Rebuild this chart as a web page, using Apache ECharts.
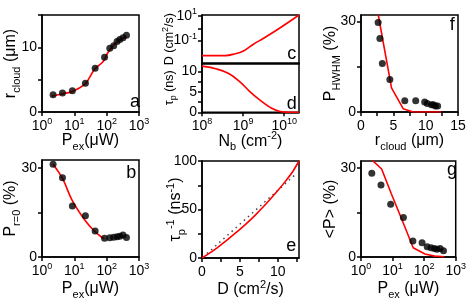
<!DOCTYPE html>
<html><head><meta charset="utf-8">
<script src="https://cdn.jsdelivr.net/npm/echarts@6/dist/echarts.min.js"></script>
<style>html,body{margin:0;padding:0;background:#fff}#c{width:469px;height:307px}</style>
</head><body><div id="c"></div>
<script>
// ---- data ----
const pEx      = [2.2, 4.3, 8.7, 22, 44, 86, 125, 165, 210, 255, 320, 410];
const rCloud   = [2.65, 2.92, 3.3, 4.46, 6.77, 8.46, 9.85, 10.25, 10.9, 11.2, 11.5, 11.85];
const rFitP    = [2.0, 4.5, 8.8, 21, 30, 43, 78, 111, 200, 408];
const rFit     = [2.46, 2.83, 3.18, 4.26, 5.4, 6.67, 7.8, 9.23, 10.77, 11.65];
const pR0      = [31.3, 26.7, 17.2, 13.9, 8.75, 6.3, 6.5, 6.7, 6.8, 7.0, 7.4, 6.6];
const pR0FitP  = [2.2, 4.3, 8.5, 21, 43, 70, 85];
const pR0Fit   = [31.3, 26.5, 19.2, 12.5, 8.6, 6.7, 6.2];
const nbC      = [1e8, 2e8, 3.7e8, 5.9e8, 1.02e9, 1.78e9, 3.16e9, 6.6e9, 1.41e10, 2.29e10];
const dC       = [0.0059, 0.0059, 0.006, 0.0078, 0.0141, 0.05, 0.155, 0.72, 3.9, 12.0];
const nbD      = [1e8, 2.29e8, 4.47e8, 8.5e8, 1.48e9, 2.63e9, 4.57e9, 7.94e9, 1.41e10, 2.29e10];
const tauD     = [11.3, 10.6, 9.5, 7.4, 5.0, 2.9, 1.2, 0.2, 0, 0];
const dE       = [0, 1, 2, 3, 4, 5, 6, 7, 8, 9, 10, 11, 12, 12.8];
const invTauE  = [0, 5, 10.5, 16.5, 23, 29.5, 36.5, 44, 52, 60.5, 69.5, 79, 89.5, 100];
const dDotE    = [0.66, 12.17];
const invDotE  = [4.5, 85];
const pHwhm    = [29.7, 24.4, 16.1, 10.8, 3.7, 3.7, 3.3, 2.8, 2.4, 2.4, 2.0, 2.0];
const rFitF    = [2.67, 4.72, 6.52, 8.06, 12.4];
const pHwhmFit = [32.2, 8.0, 1.1, 0, 0];
const pAvg     = [28.3, 24.3, 17.8, 13.3, 5.4, 4.8, 3.5, 3.1, 2.9, 2.6, 2.9, 2.1];
const pAvgFitP = [2.3, 4.5, 9, 22, 45, 106, 216, 437];
const pAvgFit  = [32.6, 29.7, 21.5, 11.4, 3.1, 1.0, 0.3, 0.1];
// tick positions / labelled ticks
const nbExpTicks = [8, 9, 10];
const dExpTicks  = [-1, 0, 1];
const dExpLabels = [-1, 1];

// ---- helpers ----
const FONT = 'Liberation Sans, Arial, Helvetica, sans-serif';
const zip = (a, b) => a.map((v, i) => [v, b[i]]);
const isInt = v => Math.abs(v - Math.round(v)) < 1e-6;
const tickRich = {
  b: {fontSize: 14, lineHeight: 18, fontFamily: FONT, color: '#000'},
  s: {fontSize: 9, verticalAlign: 'top', fontFamily: FONT, color: '#000'}
};
const mkNameRich = (fs) => ({
  n: {fontSize: fs, lineHeight: Math.round(fs * 1.375), fontFamily: FONT, color: '#000'},
  sub: {fontSize: Math.round(fs * 0.69), verticalAlign: 'bottom', fontFamily: FONT, color: '#000'},
  sup: {fontSize: Math.round(fs * 0.69), verticalAlign: 'top', fontFamily: FONT, color: '#000'}
});
const nameRich = mkNameRich(16);
const smallNameRich = mkNameRich(12.5);
const pow10 = e => '{b|10}{s|' + e + '}';
const plain = v => '{b|' + v + '}';
const line = {color: '#000', width: 1.5};
function axis(o, ticks, labels) {
  const a = Object.assign({
    axisLine: {show: true, onZero: false, lineStyle: line},
    splitLine: {show: false},
    nameLocation: 'middle',
    nameMoveOverlap: false,
    nameTextStyle: {rich: nameRich},
  }, o);
  a.axisTick = Object.assign({show: true, inside: false, length: 4, lineStyle: line}, ticks ? {customValues: ticks} : {}, o.axisTick || {});
  a.axisLabel = Object.assign({color: '#000', fontFamily: FONT, fontSize: 14, margin: 5, rich: tickRich,
    hideOverlap: false, showMinLabel: true, showMaxLabel: true}, labels ? {customValues: labels} : {}, o.axisLabel || {});
  return a;
}
const logLabel = v => {
  const l = Math.log10(v);
  return isInt(l) ? pow10(Math.round(l)) : '';
};

const grids = [
  {left: 42, top: 15, width: 97, height: 97},      // a
  {left: 202, top: 15, width: 97, height: 48.3},   // c
  {left: 202, top: 63.3, width: 97, height: 49},   // d
  {left: 361, top: 15, width: 97, height: 97},     // f
  {left: 42, top: 160, width: 97, height: 97},     // b
  {left: 202, top: 161, width: 97, height: 97},    // e
  {left: 361, top: 161, width: 97, height: 96}     // g
].map(g => Object.assign({show: true, borderColor: '#000', borderWidth: 1.5, backgroundColor: 'transparent'}, g));

const xAxes = [
  axis({gridIndex: 0, type: 'log', logBase: 10, min: 1, max: 1000, name: '{n|P}{sub|ex}{n|(μW)}', nameGap: 18, axisLabel: {formatter: logLabel}}),
  axis({gridIndex: 1, type: 'value', min: 8, max: 10.36, axisTick: {show: false}, axisLabel: {show: false}}, nbExpTicks, nbExpTicks),
  axis({gridIndex: 2, type: 'value', min: 8, max: 10.36, name: '{n|N}{sub|b}{n| (cm}{sup|-2}{n|)}', nameGap: 18,
        axisLabel: {formatter: v => pow10(Math.round(v))}}, nbExpTicks, nbExpTicks),
  axis({gridIndex: 3, type: 'value', min: 0, max: 15, name: '{n|r}{sub|cloud}{n| (μm)}', nameGap: 18,
        axisLabel: {formatter: plain}}, [0, 2.5, 5, 7.5, 10, 12.5, 15], [0, 5, 10, 15]),
  axis({gridIndex: 4, type: 'log', logBase: 10, min: 1, max: 1000, name: '{n|P}{sub|ex}{n|(μW)}', nameGap: 21, axisLabel: {formatter: logLabel}}),
  axis({gridIndex: 5, type: 'value', min: 0, max: 12.8, name: '{n|D (cm}{sup|2}{n|/s)}', nameGap: 21,
        axisLabel: {formatter: plain}}, [0, 2.5, 5, 7.5, 10, 12.5], [0, 5, 10]),
  axis({gridIndex: 6, type: 'log', logBase: 10, min: 1, max: 1000, name: '{n|P}{sub|ex}{n| (μW)}', nameGap: 21, axisLabel: {formatter: logLabel}})
];
const yAxes = [
  axis({gridIndex: 0, type: 'value', min: 0, max: 15, name: '{n|r}{sub|cloud}{n| (μm)}', nameGap: 20,
        axisLabel: {formatter: plain}}, [0, 5, 10, 15], [0, 10]),
  axis({gridIndex: 1, type: 'value', min: -2.85, max: 1.08, name: '{n|D (cm}{sup|2}{n|/s)}', nameGap: 24,
        nameTextStyle: {rich: smallNameRich}, axisLabel: {formatter: v => pow10(Math.round(v))}}, dExpTicks, dExpLabels),
  axis({gridIndex: 2, type: 'value', min: 0, max: 12, name: '{n|τ}{sub|p}{n| (ns)}', nameGap: 24,
        nameTextStyle: {rich: smallNameRich}, axisLabel: {formatter: plain}}, [0, 2.5, 5, 7.5, 10], [0, 5, 10]),
  axis({gridIndex: 3, type: 'value', min: 0, max: 32.2, name: '{n|P}{sub|HWHM}{n| (%)}', nameGap: 19,
        axisLabel: {formatter: plain}}, [0, 15, 30], [0, 30]),
  axis({gridIndex: 4, type: 'value', min: 0, max: 32.7, name: '{n|P}{sub|r=0}{n| (%)}', nameGap: 20,
        axisLabel: {formatter: plain}}, [0, 15, 30], [0, 30]),
  axis({gridIndex: 5, type: 'value', min: 0, max: 100, name: '{n|τ}{sub|p}{sup|-1}{n| (ns}{sup|-1}{n|)}', nameGap: 15,
        axisLabel: {formatter: plain}}, [0, 25, 50, 75, 100], [0, 50, 100]),
  axis({gridIndex: 6, type: 'value', min: 0, max: 32.4, name: '{n|<P> (%)}', nameGap: 19,
        axisLabel: {formatter: plain}}, [0, 15, 30], [0, 30])
];

const red = {color: '#ff0000', width: 1.6};
const fit = (i, data, smooth) => ({type: 'line', xAxisIndex: i, yAxisIndex: i, data, smooth: smooth || false,
  showSymbol: false, symbol: 'none', lineStyle: red, itemStyle: {color: '#f00'}, z: 2, silent: true});
const dots = (i, data) => ({type: 'scatter', xAxisIndex: i, yAxisIndex: i, data, symbol: 'circle', symbolSize: 7,
  itemStyle: {color: '#000'}, z: 3, silent: true});

const series = [
  fit(0, zip(rFitP, rFit), 0.35), dots(0, zip(pEx, rCloud)),
  fit(1, zip(nbC.map(v => Math.log10(v)), dC.map(v => Math.log10(v))), 0.4),
  fit(2, zip(nbD.map(v => Math.log10(v)), tauD), 0.4),
  fit(3, zip(rFitF, pHwhmFit)), dots(3, zip(rCloud, pHwhm)),
  fit(4, zip(pR0FitP, pR0Fit), 0.35), dots(4, zip(pEx, pR0)),
  fit(5, zip(dE, invTauE), 0.3),
  {type: 'line', xAxisIndex: 5, yAxisIndex: 5, data: zip(dDotE, invDotE), showSymbol: false, symbol: 'none',
   lineStyle: {color: '#444', width: 1.5, type: [1.5, 4]}, z: 1, silent: true},
  fit(6, zip(pAvgFitP, pAvgFit)), dots(6, zip(pEx, pAvg))
];

const letters = [['a', 135, 101.7], ['c', 291.8, 54.2], ['d', 291.7, 104], ['f', 452.2, 25.5],
                 ['b', 131.3, 173.3], ['e', 291.3, 245.7], ['g', 452, 170.4]];
const graphic = letters.map(([t, x, y]) => ({type: 'text', x, y, silent: true,
  style: {text: t, fill: '#000', font: '18px ' + FONT, align: 'center', verticalAlign: 'middle'}}));

const chart = echarts.init(document.getElementById('c'), null, {renderer: 'canvas'});
chart.setOption({animation: false, backgroundColor: '#fff', grid: grids, xAxis: xAxes, yAxis: yAxes, series, graphic});
</script></body></html>
